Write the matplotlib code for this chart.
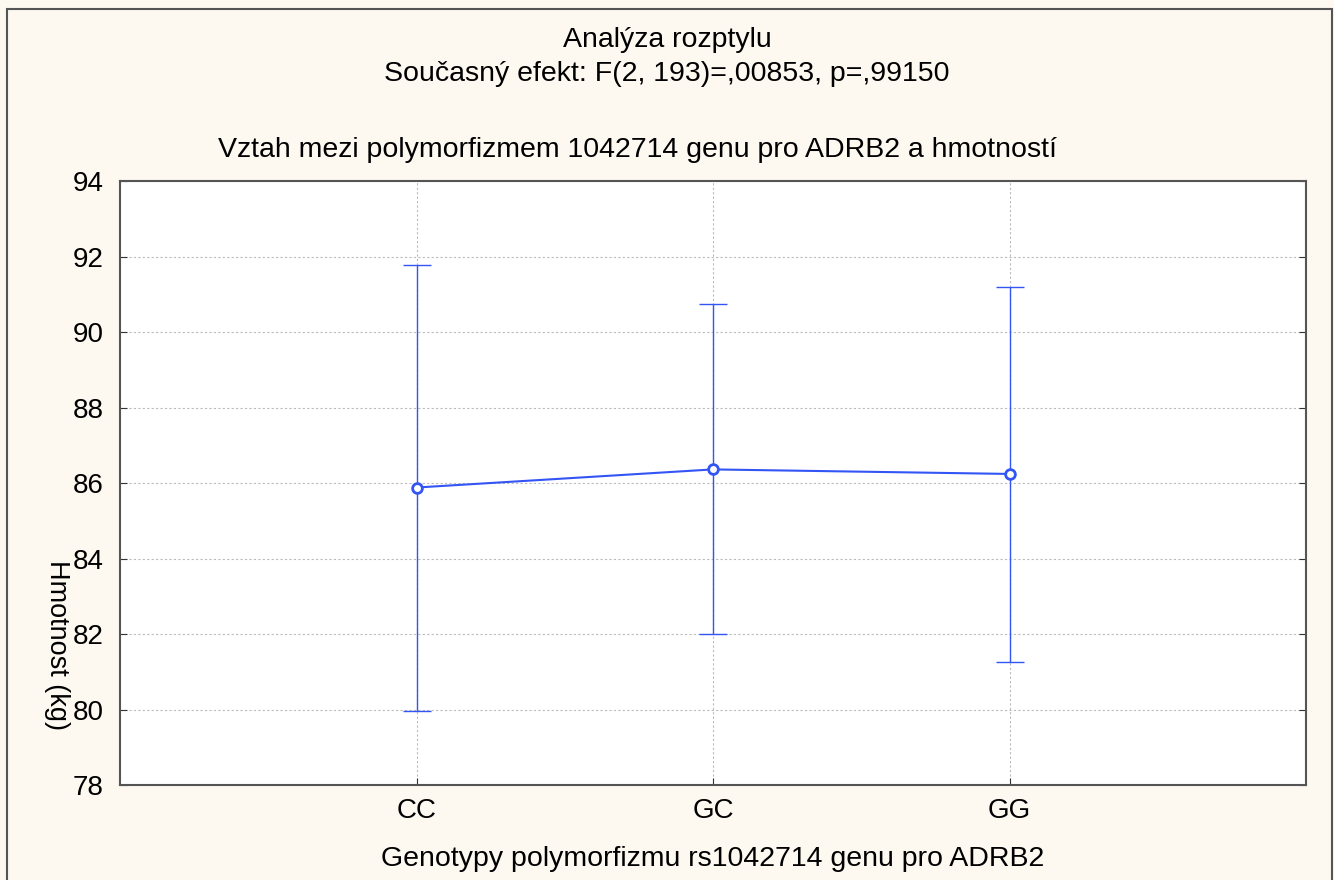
import numpy as np
import matplotlib.pyplot as plt
from matplotlib.patches import Rectangle

plt.rcParams['font.family'] = ['Liberation Sans', 'DejaVu Sans']

# Data
genotypy = ['CC', 'GC', 'GG']
prumer = [85.88, 86.36, 86.24]
dolni = [79.96, 82.00, 81.27]
horni = [91.78, 90.73, 91.20]
yticks = [78, 80, 82, 84, 86, 88, 90, 92, 94]

bg = '#fdf8f0'
blue = '#3355f5'

fig = plt.figure(figsize=(13.34, 8.8), dpi=100, facecolor=bg)
# outer frame (top, left, right)
fig.add_artist(Rectangle((7 / 1334, -0.05), (1332 - 7) / 1334, 1.05 - 9 / 880,
                         transform=fig.transFigure, fill=False,
                         edgecolor='#555555', linewidth=1.5))

ax = fig.add_axes([120 / 1334, 1 - 785 / 880, (1306 - 120) / 1334, (785 - 181) / 880])
ax.set_facecolor('white')

x = np.arange(len(genotypy))
y = np.array(prumer)
err = [y - np.array(dolni), np.array(horni) - y]
ax.errorbar(x, y, yerr=err, fmt='none', ecolor=blue, elinewidth=1.0,
            capsize=10, capthick=1.0, zorder=3)
ax.plot(x, y, color=blue, linewidth=1.5, marker='o', markersize=7,
        markerfacecolor='white', markeredgecolor=blue, markeredgewidth=2, zorder=4)

ax.set_xlim(-1, 3)
ax.set_ylim(78, 94)
ax.set_yticks(yticks)
ax.set_xticks(x)
ax.set_xticklabels(genotypy)
ax.grid(True, color='#bbbbbb', linestyle=(0, (2, 2)), linewidth=0.8)
ax.set_axisbelow(True)
ax.tick_params(axis='y', direction='in', length=5, labelsize=20, pad=12,
               right=True, color='#333333')
ax.tick_params(axis='x', direction='in', length=5, labelsize=20, pad=9,
               color='#333333')
for s in ax.spines.values():
    s.set_color('#555555')
    s.set_linewidth(1.5)

ax.set_xlabel('Genotypy polymorfizmu rs1042714 genu pro ADRB2', fontsize=20.5, labelpad=16)

fig.text(0.5, 1 - 40 / 880, 'Analýza rozptylu', ha='center', va='center', fontsize=20.5)
fig.text(0.5, 1 - 74 / 880, 'Současný efekt: F(2, 193)=,00853, p=,99150',
         ha='center', va='center', fontsize=20.5)
fig.text(638 / 1334, 1 - 150 / 880, 'Vztah mezi polymorfizmem 1042714 genu pro ADRB2 a hmotností',
         ha='center', va='center', fontsize=20.5)
fig.text(57 / 1334, 1 - 645 / 880, 'Hmotnost (kg)', rotation=270,
         ha='center', va='center', fontsize=19.5)

fig.savefig('out.png', dpi=100, facecolor=bg)
